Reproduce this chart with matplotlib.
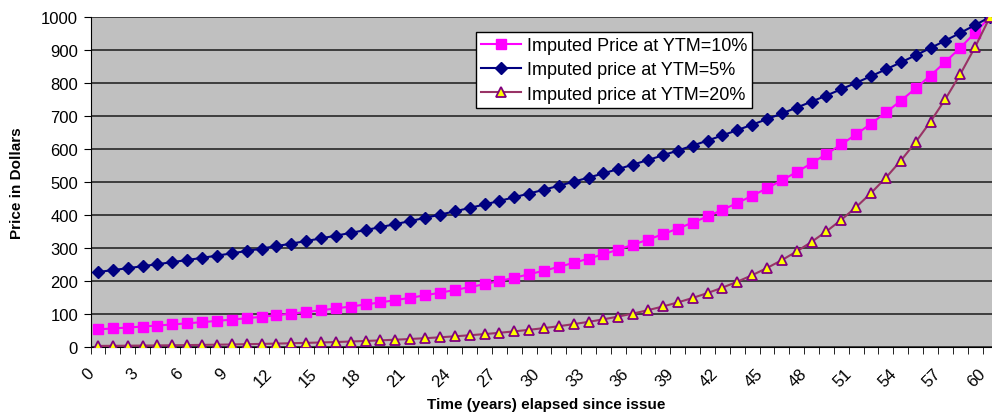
import numpy as np
import matplotlib
matplotlib.use('Agg')
import matplotlib.pyplot as plt
import matplotlib.transforms as mtransforms

plt.rcParams['font.family'] = ['Liberation Sans', 'DejaVu Sans']

# 时间 (0..60) 与三条价格曲线
years = list(range(61))
price_10 = [53.5, 56.2, 59.0, 62.0, 65.1, 68.3, 71.7, 75.3, 79.1, 83.0,
            87.2, 91.5, 96.1, 101.0, 106.0, 111.3, 116.9, 122.7, 128.9, 135.3,
            142.0, 149.2, 156.6, 164.5, 172.7, 181.3, 190.4, 199.9, 209.9, 220.4,
            231.4, 242.9, 255.1, 267.8, 281.2, 295.3, 310.1, 325.6, 341.8, 358.9,
            376.9, 395.7, 415.5, 436.3, 458.1, 481.0, 505.1, 530.3, 556.8, 584.7,
            613.9, 644.6, 676.8, 710.7, 746.2, 783.5, 822.7, 863.8, 907.0, 952.4,
            1000.0]
price_5 = [227.3, 233.0, 238.8, 244.8, 250.9, 257.2, 263.6, 270.2, 276.9, 283.8,
           290.9, 298.2, 305.7, 313.3, 321.1, 329.2, 337.4, 345.8, 354.5, 363.3,
           372.4, 381.7, 391.3, 401.1, 411.1, 421.4, 431.9, 442.7, 453.8, 465.1,
           476.7, 488.7, 500.9, 513.4, 526.2, 539.4, 552.9, 566.7, 580.9, 595.4,
           610.3, 625.5, 641.2, 657.2, 673.6, 690.5, 707.7, 725.4, 743.6, 762.1,
           781.2, 800.7, 820.7, 841.3, 862.3, 883.9, 906.0, 928.6, 951.8, 975.6,
           1000.0]
price_20 = [3.3, 3.6, 4.0, 4.4, 4.8, 5.3, 5.8, 6.4, 7.0, 7.7,
            8.5, 9.4, 10.3, 11.4, 12.5, 13.7, 15.1, 16.6, 18.3, 20.1,
            22.1, 24.3, 26.7, 29.4, 32.4, 35.6, 39.1, 43.1, 47.4, 52.1,
            57.3, 63.0, 69.4, 76.3, 83.9, 92.3, 101.5, 111.7, 122.8, 135.1,
            148.6, 163.5, 179.9, 197.8, 217.6, 239.4, 263.3, 289.7, 318.6, 350.5,
            385.5, 424.1, 466.5, 513.2, 564.5, 620.9, 683.0, 751.3, 826.4, 909.1,
            1000.0]
x_labels = list(range(0, 61, 3))
y_ticks = list(range(0, 1001, 100))

fig = plt.figure(figsize=(9.92, 4.14), dpi=100)
# 绘图区右侧超出图片 (原图被裁掉)
ax = fig.add_axes([90.6 / 992, 66 / 414, 906.8 / 992, 330 / 414])
ax.set_facecolor('#C0C0C0')

ax.plot(years, price_10, color='#FF00FF', lw=1.5, marker='s', ms=7,
        mfc='#FF00FF', mec='#FF00FF', label='Imputed Price at YTM=10%', zorder=3)
ax.plot(years, price_5, color='#000080', lw=1.5, marker='D', ms=6,
        mfc='#000080', mec='#000080', label='Imputed price at YTM=5%', zorder=3)
ax.plot(years, price_20, color='#993366', lw=1.5, marker='^', ms=7,
        mfc='#FFFF00', mec='#800080', mew=1.3, label='Imputed price at YTM=20%', zorder=3)

ax.set_xlim(-0.5, 60.5)
ax.set_ylim(0, 1000)
ax.set_yticks(y_ticks)
ax.yaxis.grid(True, color='#333333', lw=1.3)
ax.set_axisbelow(True)

ax.set_xticks(x_labels)
ax.set_xticklabels([str(v) for v in x_labels], rotation=45, ha='right',
                   va='top', rotation_mode='anchor')
ax.set_xticks(np.arange(-0.5, 61, 1), minor=True)
ax.tick_params(axis='x', which='major', length=0, labelsize=12, pad=8)
ax.tick_params(axis='x', which='minor', length=5, color='black')
ax.tick_params(axis='y', length=5, labelsize=12, pad=4)

# 标签整体向左下移动
shift = mtransforms.ScaledTranslation(-0.12, -0.07, fig.dpi_scale_trans)
for lab in ax.get_xticklabels():
    lab.set_transform(lab.get_transform() + shift)

for s in ['top', 'right']:
    ax.spines[s].set_visible(False)
ax.spines['left'].set_color('black')
ax.spines['bottom'].set_color('black')

ax.set_ylabel('Price in Dollars', fontsize=11, fontweight='bold', labelpad=12)
ax.set_xlabel('Time (years) elapsed since issue', fontsize=11, fontweight='bold')
ax.xaxis.set_label_coords(0.502, -0.152)

leg = ax.legend(loc='upper left', bbox_to_anchor=(0.425, 0.955), fontsize=13,
                frameon=True, fancybox=False, framealpha=1, edgecolor='black',
                borderaxespad=0, handlelength=2.2, labelspacing=0.4,
                borderpad=0.3, handletextpad=0.3)
leg.get_frame().set_linewidth(1.0)

plt.savefig('out.png', dpi=100)
